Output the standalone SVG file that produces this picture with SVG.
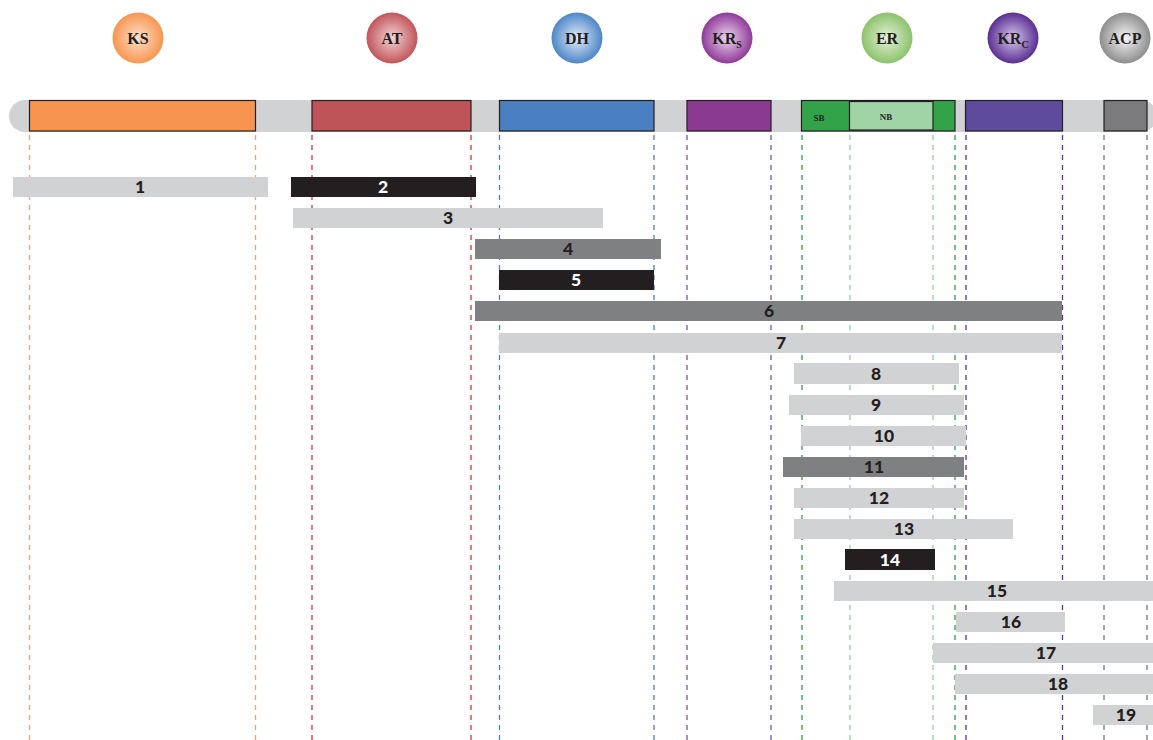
<svg xmlns="http://www.w3.org/2000/svg" width="1153" height="740" viewBox="0 0 1153 740">
<style>
.ct{font-family:"Liberation Serif",serif;font-weight:bold;font-size:16px;fill:#231f20;text-anchor:middle}
.sub{font-size:10px}
.dl{stroke-width:1.3;stroke-dasharray:5,5;fill:none}
.dom{stroke:#231f20;stroke-width:1.2}
.bl{font-family:"Lato","Open Sans",sans-serif;font-weight:900;font-size:17.5px;text-anchor:middle}
.lt{fill:#d1d2d4}.dk{fill:#7f8082}.bk{fill:#231f20}
.tl{fill:#231f20}.tw{fill:#ffffff}
.small{font-family:"Liberation Serif",serif;font-weight:bold;font-size:9px;fill:#231f20;text-anchor:middle}
</style>
<defs>
<radialGradient id="gKS" cx="0.5" cy="0.5" r="0.5"><stop offset="0" stop-color="#fde0cc"/><stop offset="1" stop-color="#f7964f"/></radialGradient>
<radialGradient id="gAT" cx="0.5" cy="0.5" r="0.5"><stop offset="0" stop-color="#f4d4d6"/><stop offset="1" stop-color="#c0555a"/></radialGradient>
<radialGradient id="gDH" cx="0.5" cy="0.5" r="0.5"><stop offset="0" stop-color="#e4eef8"/><stop offset="1" stop-color="#4d86c8"/></radialGradient>
<radialGradient id="gKRs" cx="0.5" cy="0.5" r="0.5"><stop offset="0" stop-color="#f0d6f0"/><stop offset="1" stop-color="#8e3a98"/></radialGradient>
<radialGradient id="gER" cx="0.5" cy="0.5" r="0.5"><stop offset="0" stop-color="#e6f2dc"/><stop offset="1" stop-color="#8cc26a"/></radialGradient>
<radialGradient id="gKRc" cx="0.5" cy="0.5" r="0.5"><stop offset="0" stop-color="#d8c8ec"/><stop offset="1" stop-color="#5a2e92"/></radialGradient>
<radialGradient id="gACP" cx="0.5" cy="0.5" r="0.5"><stop offset="0" stop-color="#f6f6f6"/><stop offset="1" stop-color="#8e8e8e"/></radialGradient>
</defs>

<g id="legend">
<g id="c-KS"><circle cx="138" cy="38" r="25.5" fill="url(#gKS)"/><text class="ct" x="138" y="44">KS</text></g>
<g id="c-AT"><circle cx="392" cy="38" r="25.5" fill="url(#gAT)"/><text class="ct" x="392" y="44">AT</text></g>
<g id="c-DH"><circle cx="577" cy="38" r="25.5" fill="url(#gDH)"/><text class="ct" x="577" y="44">DH</text></g>
<g id="c-KRs"><circle cx="727" cy="38" r="25.5" fill="url(#gKRs)"/><text class="ct" x="727" y="44">KR<tspan class="sub" dy="4">S</tspan></text></g>
<g id="c-ER"><circle cx="887" cy="38" r="25.5" fill="url(#gER)"/><text class="ct" x="887" y="44">ER</text></g>
<g id="c-KRc"><circle cx="1013" cy="38" r="25.5" fill="url(#gKRc)"/><text class="ct" x="1013" y="44">KR<tspan class="sub" dy="4">C</tspan></text></g>
<g id="c-ACP"><circle cx="1125" cy="38" r="25.5" fill="url(#gACP)"/><text class="ct" x="1125" y="44">ACP</text></g>
</g>

<g id="guides">
<line class="dl" x1="29.5" y1="135" x2="29.5" y2="740" stroke="#f4a070"/>
<line class="dl" x1="255.5" y1="135" x2="255.5" y2="740" stroke="#f4a070"/>
<line class="dl" x1="312" y1="135" x2="312" y2="740" stroke="#d9303f"/>
<line class="dl" x1="471" y1="135" x2="471" y2="740" stroke="#d9303f"/>
<line class="dl" x1="499.5" y1="135" x2="499.5" y2="740" stroke="#4a80c8"/>
<line class="dl" x1="654" y1="135" x2="654" y2="740" stroke="#4a80c8"/>
<line class="dl" x1="687" y1="135" x2="687" y2="740" stroke="#8050b0"/>
<line class="dl" x1="771" y1="135" x2="771" y2="740" stroke="#8050b0"/>
<line class="dl" x1="802" y1="135" x2="802" y2="740" stroke="#30a048"/>
<line class="dl" x1="850" y1="135" x2="850" y2="740" stroke="#90d498"/>
<line class="dl" x1="933" y1="135" x2="933" y2="740" stroke="#90d498"/>
<line class="dl" x1="955" y1="135" x2="955" y2="740" stroke="#30a048"/>
<line class="dl" x1="966" y1="135" x2="966" y2="740" stroke="#6030a8"/>
<line class="dl" x1="1062.5" y1="135" x2="1062.5" y2="740" stroke="#6030a8"/>
<line class="dl" x1="1104" y1="135" x2="1104" y2="740" stroke="#777777"/>
<line class="dl" x1="1147" y1="135" x2="1147" y2="740" stroke="#777777"/>
</g>

<g id="backbone">
<rect x="9" y="100" width="1148" height="32" rx="16" fill="#d1d2d4"/>
<rect class="dom" x="29.5" y="100.5" width="226" height="30.5" fill="#f79550"/>
<rect class="dom" x="312" y="100.5" width="159" height="30.5" fill="#be5457"/>
<rect class="dom" x="499.5" y="100.5" width="154.5" height="30.5" fill="#4a80c1"/>
<rect class="dom" x="687" y="100.5" width="84" height="30.5" fill="#8b3a92"/>
<rect class="dom" x="801.5" y="100.5" width="153.5" height="30.5" fill="#33a34a"/>
<rect class="dom" x="849.5" y="101.5" width="83.5" height="28.5" fill="#a0d4a6"/>
<text class="small" x="819" y="121">SB</text>
<text class="small" x="886" y="120">NB</text>
<rect class="dom" x="965.5" y="100.5" width="97" height="30.5" fill="#5e4b9c"/>
<rect class="dom" x="1104" y="100.5" width="43" height="30.5" fill="#7b7b7d"/>
</g>

<g id="fragments">
<g id="f1"><rect class="lt" x="13" y="177" width="255" height="20"/><text class="bl tl" x="140" y="193">1</text></g>
<g id="f2"><rect class="bk" x="291" y="177" width="185" height="20"/><text class="bl tw" x="383" y="193">2</text></g>
<g id="f3"><rect class="lt" x="293" y="208" width="310" height="20"/><text class="bl tl" x="448" y="224">3</text></g>
<g id="f4"><rect class="dk" x="475" y="239" width="186" height="20"/><text class="bl tl" x="568" y="255">4</text></g>
<g id="f5"><rect class="bk" x="499" y="270" width="155" height="20"/><text class="bl tw" x="576" y="286">5</text></g>
<g id="f6"><rect class="dk" x="475" y="301" width="587" height="20"/><text class="bl tl" x="769" y="317">6</text></g>
<g id="f7"><rect class="lt" x="499" y="333" width="563" height="20"/><text class="bl tl" x="781" y="349">7</text></g>
<g id="f8"><rect class="lt" x="794" y="363" width="165" height="21"/><text class="bl tl" x="876" y="380">8</text></g>
<g id="f9"><rect class="lt" x="789" y="395" width="175" height="20"/><text class="bl tl" x="876" y="411">9</text></g>
<g id="f10"><rect class="lt" x="801" y="426" width="165" height="20"/><text class="bl tl" x="884" y="442">10</text></g>
<g id="f11"><rect class="dk" x="783" y="457" width="181" height="20"/><text class="bl tl" x="874" y="473">11</text></g>
<g id="f12"><rect class="lt" x="794" y="488" width="170" height="20"/><text class="bl tl" x="879" y="504">12</text></g>
<g id="f13"><rect class="lt" x="794" y="519" width="219" height="20"/><text class="bl tl" x="904" y="535">13</text></g>
<g id="f14"><rect class="bk" x="845" y="549" width="90" height="21"/><text class="bl tw" x="890" y="566">14</text></g>
<g id="f15"><rect class="lt" x="834" y="581" width="319" height="20"/><text class="bl tl" x="997" y="597">15</text></g>
<g id="f16"><rect class="lt" x="956" y="612" width="109" height="20"/><text class="bl tl" x="1011" y="628">16</text></g>
<g id="f17"><rect class="lt" x="933" y="643" width="220" height="20"/><text class="bl tl" x="1046" y="659">17</text></g>
<g id="f18"><rect class="lt" x="955" y="674" width="198" height="20"/><text class="bl tl" x="1058" y="690">18</text></g>
<g id="f19"><rect class="lt" x="1093" y="705" width="60" height="20"/><text class="bl tl" x="1126" y="721">19</text></g>
</g>
</svg>
